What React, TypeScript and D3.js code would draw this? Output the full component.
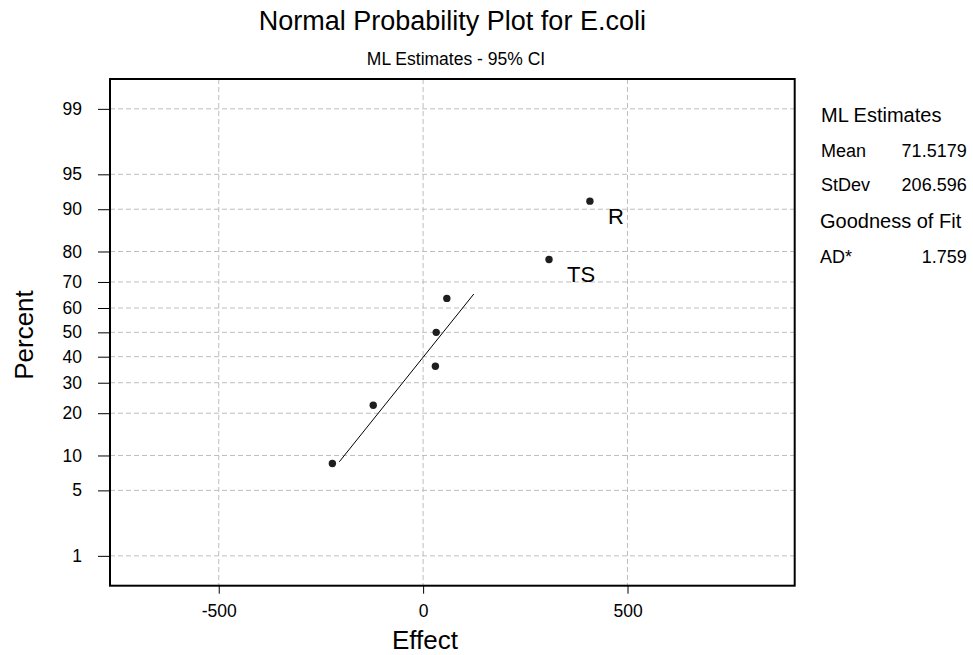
import React, { useEffect, useRef } from "react";
import * as d3 from "d3";

// effect estimates and their plotting percents
const effects = [-222, -122, 30, 32, 58, 308, 408];
const percents = [8.6, 22.4, 36.2, 50, 63.8, 77.6, 91.4];
const pointLabels = ["", "", "", "", "", "TS", "R"];

// fitted line end points
const fitEffects = [-205, 124];
const fitPercents = [8.9, 65.5];

const xTicks = [-500, 0, 500];
const yTicks = [1, 5, 10, 20, 30, 40, 50, 60, 70, 80, 90, 95, 99];

const estimateNames = ["Mean", "StDev"];
const estimateValues = ["71.5179", "206.596"];
const fitNames = ["AD*"];
const fitValues = ["1.759"];

const FONT = "'Liberation Sans', Arial, sans-serif";

// inverse normal cdf (Acklam)
function probit(p: number): number {
  const a = [-39.69683028665376, 220.9460984245205, -275.9285104469687, 138.357751867269, -30.66479806614716, 2.506628277459239];
  const b = [-54.47609879822406, 161.5858368580409, -155.6989798598866, 66.80131188771972, -13.28068155288572];
  const c = [-0.007784894002430293, -0.3223964580411365, -2.400758277161838, -2.549732539343734, 4.374664141464968, 2.938163982698783];
  const d = [0.007784695709041462, 0.3224671290700398, 2.445134137142996, 3.754408661907416];
  const plow = 0.02425;
  if (p < plow) {
    const q = Math.sqrt(-2 * Math.log(p));
    return (((((c[0] * q + c[1]) * q + c[2]) * q + c[3]) * q + c[4]) * q + c[5]) /
      ((((d[0] * q + d[1]) * q + d[2]) * q + d[3]) * q + 1);
  }
  if (p > 1 - plow) {
    const q = Math.sqrt(-2 * Math.log(1 - p));
    return -(((((c[0] * q + c[1]) * q + c[2]) * q + c[3]) * q + c[4]) * q + c[5]) /
      ((((d[0] * q + d[1]) * q + d[2]) * q + d[3]) * q + 1);
  }
  const q = p - 0.5;
  const r = q * q;
  return (((((a[0] * r + a[1]) * r + a[2]) * r + a[3]) * r + a[4]) * r + a[5]) * q /
    (((((b[0] * r + b[1]) * r + b[2]) * r + b[3]) * r + b[4]) * r + 1);
}

const App = () => {
  const visual = useRef<SVGSVGElement>(null);

  useEffect(() => {
    const width = 973;
    const height = 655;
    const left = 110;
    const right = 794.7;
    const top = 79;
    const bottom = 585.7;

    const svg = d3.select(visual.current).attr("width", width).attr("height", height);
    svg.selectAll("*").remove();

    const xScale = d3.scaleLinear().domain([-766, 909]).range([left, right]);
    const zScale = d3.scaleLinear().domain([-2.637, 2.637]).range([bottom, top]);
    const yPos = (p: number) => zScale(probit(p / 100));

    // grid
    const grid = svg.append("g").attr("stroke", "#bdbdbd").attr("stroke-dasharray", "5,3");
    grid.selectAll(".gx").data(xTicks).join("line")
      .attr("class", "gx")
      .attr("x1", d => xScale(d)).attr("x2", d => xScale(d))
      .attr("y1", top).attr("y2", bottom);
    grid.selectAll(".gy").data(yTicks).join("line")
      .attr("class", "gy")
      .attr("x1", left).attr("x2", right)
      .attr("y1", d => yPos(d)).attr("y2", d => yPos(d));

    // axes
    const yAxis = d3.axisLeft(zScale)
      .tickValues(yTicks.map(p => probit(p / 100)))
      .tickFormat((d, i) => String(yTicks[i]))
      .tickSize(12)
      .tickPadding(16);
    const gy = svg.append("g").attr("transform", `translate(${left},0)`).call(yAxis);
    const xAxis = d3.axisBottom(xScale)
      .tickValues(xTicks)
      .tickFormat(d => String(d))
      .tickSize(8)
      .tickPadding(11);
    const gx = svg.append("g").attr("transform", `translate(0,${bottom})`).call(xAxis);
    [gx, gy].forEach(g => {
      g.select(".domain").remove();
      g.attr("font-family", FONT).attr("font-size", 17.5);
      g.selectAll("line").attr("stroke", "#000");
      g.selectAll("text").attr("fill", "#000");
    });

    // frame
    svg.append("rect")
      .attr("x", left).attr("y", top)
      .attr("width", right - left).attr("height", bottom - top)
      .attr("fill", "none").attr("stroke", "#000").attr("stroke-width", 2);

    // fitted line
    const line = d3.line<number>()
      .x((d, i) => xScale(fitEffects[i]))
      .y(d => yPos(d));
    svg.append("path").datum(fitPercents)
      .attr("d", line).attr("fill", "none").attr("stroke", "#000").attr("stroke-width", 1);

    // points
    svg.selectAll(".pt").data(effects).join("circle")
      .attr("class", "pt")
      .attr("cx", d => xScale(d))
      .attr("cy", (d, i) => yPos(percents[i]))
      .attr("r", 3.7)
      .attr("fill", "#1e1e1e");

    svg.selectAll(".lbl").data(effects).join("text")
      .attr("class", "lbl")
      .attr("x", d => xScale(d) + 18)
      .attr("y", (d, i) => yPos(percents[i]) + 23)
      .attr("font-family", FONT).attr("font-size", 22)
      .text((d, i) => pointLabels[i]);

    // titles
    svg.append("text").attr("x", (left + right) / 2).attr("y", 30)
      .attr("text-anchor", "middle").attr("font-family", FONT).attr("font-size", 27)
      .text("Normal Probability Plot for E.coli");
    svg.append("text").attr("x", 456).attr("y", 65)
      .attr("text-anchor", "middle").attr("font-family", FONT).attr("font-size", 17.5)
      .text("ML Estimates - 95% CI");
    svg.append("text").attr("x", 425).attr("y", 649)
      .attr("text-anchor", "middle").attr("font-family", FONT).attr("font-size", 26)
      .text("Effect");
    svg.append("text").attr("transform", "translate(33,335) rotate(-90)")
      .attr("text-anchor", "middle").attr("font-family", FONT).attr("font-size", 26)
      .text("Percent");

    // side panel
    const panel = svg.append("g").attr("font-family", FONT).attr("fill", "#000");
    panel.append("text").attr("x", 821).attr("y", 121.7).attr("font-size", 20).text("ML Estimates");
    estimateNames.forEach((n, i) => {
      panel.append("text").attr("x", 821).attr("y", 156.7 + i * 34).attr("font-size", 18).text(n);
      panel.append("text").attr("x", 966.7).attr("y", 156.7 + i * 34)
        .attr("text-anchor", "end").attr("font-size", 18).text(estimateValues[i]);
    });
    panel.append("text").attr("x", 820).attr("y", 228.3).attr("font-size", 20).text("Goodness of Fit");
    fitNames.forEach((n, i) => {
      panel.append("text").attr("x", 820).attr("y", 263.3 + i * 34).attr("font-size", 18).text(n);
      panel.append("text").attr("x", 966.7).attr("y", 263.3 + i * 34)
        .attr("text-anchor", "end").attr("font-size", 18).text(fitValues[i]);
    });
  }, []);

  return (
    <svg
      ref={visual}
      style={{ position: "absolute", left: 0, top: 0, background: "#fff" }}
    />
  );
};

export default App;
